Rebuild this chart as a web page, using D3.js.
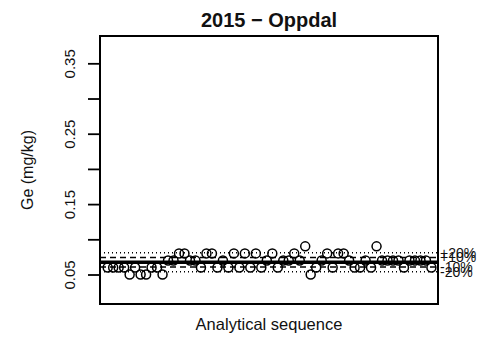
<!DOCTYPE html>
<html><head><meta charset="utf-8">
<script src="https://cdn.jsdelivr.net/npm/d3@7"></script>
<style>body{margin:0;background:#fff}svg{display:block}text{font-family:"Liberation Sans",Arial,sans-serif;fill:#111}</style>
</head><body><svg id="c" width="495" height="339"></svg>
<script>
const title = "2015 − Oppdal";
const yLabel = "Ge  (mg/kg)";
const xLabel = "Analytical sequence";
const geValues = [0.06,0.06,0.06,0.06,0.05,0.06,0.05,0.05,0.06,0.06,
  0.05,0.07,0.07,0.08,0.08,0.07,0.07,0.06,0.08,0.08,
  0.06,0.07,0.06,0.08,0.06,0.08,0.06,0.08,0.06,0.07,
  0.08,0.06,0.07,0.07,0.08,0.07,0.09,0.05,0.06,0.07,
  0.08,0.06,0.08,0.08,0.07,0.06,0.06,0.07,0.06,0.09,
  0.07,0.07,0.07,0.07,0.06,0.07,0.07,0.07,0.07,0.06];
const yTicks = [0.05,0.10,0.15,0.20,0.25,0.30,0.35];
const yTickLabels = ["0.05","","0.15","","0.25","","0.35"];
const bandFactors = [1.2,1.1,1.0,0.9,0.8];
const bandLabels = ["+20%","+10%","","-10%","-20%"];

const svg = d3.select("#c");
const L=100,R=438,T=36,B=304;
const x = d3.scaleLinear().domain([-1.4,60.2]).range([L,R]);
const y = d3.scaleLinear().domain([0.0081,0.3888]).range([B,T]);
const mean = d3.mean(geValues);

// reference lines
const styles = {1.2:{dash:"1,3",w:1.4},1.1:{dash:"6,4",w:1.4},1:{dash:null,w:3.4},0.9:{dash:"6,4",w:1.4},0.8:{dash:"1,3",w:1.4}};
bandFactors.forEach((f,i)=>{
  const st=styles[f];
  svg.append("line").attr("x1",L).attr("x2",R).attr("y1",y(mean*f)).attr("y2",y(mean*f))
    .attr("stroke","#000").attr("stroke-width",st.w).attr("stroke-dasharray",st.dash);
  if(bandLabels[i]) svg.append("text").attr("x",440).attr("y",y(mean*f)).attr("dy","0.35em")
    .attr("font-size",14).text(bandLabels[i]);
});

// points
svg.append("g").selectAll("circle").data(geValues).join("circle")
  .attr("cx",(d,i)=>x(i)).attr("cy",d=>y(d)).attr("r",4.5)
  .attr("fill","none").attr("stroke","#000").attr("stroke-width",1.5);

// box
svg.append("rect").attr("x",L).attr("y",T).attr("width",R-L).attr("height",B-T)
  .attr("fill","none").attr("stroke","#000").attr("stroke-width",2);

// y axis
const ax = svg.append("g").attr("transform",`translate(${L},0)`)
  .call(d3.axisLeft(y).tickValues(yTicks).tickSize(12).tickPadding(0)
  .tickFormat((d,i)=>yTickLabels[i]));
ax.select(".domain").remove();
ax.selectAll(".tick line").attr("stroke","#000").attr("stroke-width",1.8);
ax.selectAll(".tick text").attr("x",null).attr("dy",null)
  .attr("transform","translate(-25,0) rotate(-90)").attr("text-anchor","middle")
  .attr("font-size",15).attr("font-family","Liberation Sans, Arial, sans-serif").attr("fill","#111");

svg.append("text").attr("transform",`translate(33,${(T+B)/2}) rotate(-90)`).attr("text-anchor","middle")
  .attr("font-size",16).text(yLabel);
svg.append("text").attr("x",(L+R)/2).attr("y",330).attr("text-anchor","middle").attr("font-size",16.5).text(xLabel);
svg.append("text").attr("x",(L+R)/2).attr("y",27).attr("text-anchor","middle").attr("font-size",20).attr("font-weight","bold").text(title);
</script></body></html>
